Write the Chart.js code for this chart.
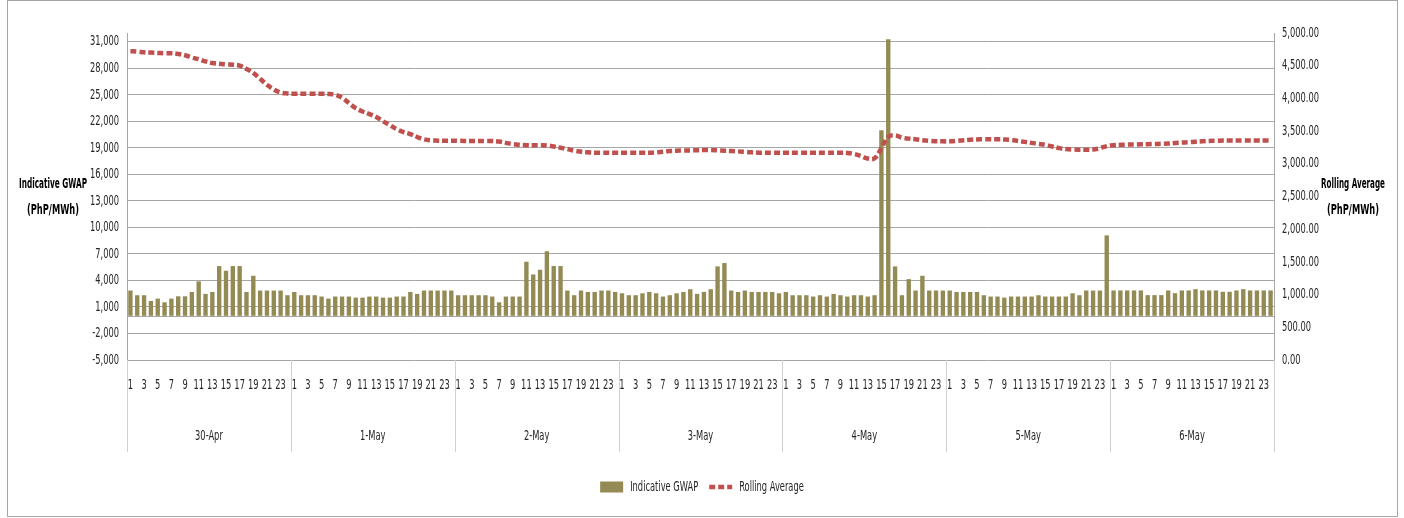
<!DOCTYPE html>
<html><head><meta charset="utf-8">
<script src="https://cdn.jsdelivr.net/npm/chart.js@4.4.0/dist/chart.umd.min.js"></script>
<style>html,body{margin:0;padding:0;background:#fff;}#wrap{width:1404px;height:518px;position:relative;}</style>
</head><body><div id="wrap"><canvas id="c" width="1404" height="518"></canvas></div>
<script>
const days = ['30-Apr','1-May','2-May','3-May','4-May','5-May','6-May'];
const hours = ['1','2','3','4','5','6','7','8','9','10','11','12','13','14','15','16','17','18','19','20','21','22','23','24'];
const gwap = [
  2860,2330,2330,1680,1950,1530,1950,2210,2210,2700,3900,2480,2700,5630,5100,5630,5630,2700,4530,2860,2860,2860,2860,2330,
  2700,2330,2330,2330,2180,1950,2180,2180,2180,2060,2060,2180,2180,2060,2060,2180,2180,2700,2480,2860,2860,2860,2860,2860,
  2330,2330,2330,2330,2330,2180,1530,2180,2180,2180,6120,4680,5210,7300,5630,5630,2860,2330,2860,2700,2700,2860,2860,2700,
  2550,2330,2330,2550,2700,2550,2180,2330,2550,2700,3010,2480,2700,3010,5590,5970,2860,2700,2860,2700,2700,2700,2700,2550,
  2700,2330,2330,2330,2180,2330,2180,2480,2330,2180,2330,2330,2180,2330,21000,31300,5590,2330,4150,2860,4530,2860,2860,2860,
  2860,2700,2700,2700,2700,2330,2180,2180,2060,2180,2180,2180,2180,2330,2180,2180,2180,2180,2550,2330,2860,2860,2860,9100,
  2870,2870,2870,2870,2870,2340,2340,2340,2870,2560,2870,2870,3020,2870,2870,2870,2720,2720,2870,3020,2870,2870,2870,2870
];
const rolling = [
  4721,4716,4705,4700,4695,4690,4690,4680,4660,4625,4600,4565,4540,4530,4520,4515,4500,4450,4390,4300,4210,4135,4090,4075,
  4070,4070,4070,4070,4070,4068,4055,4010,3930,3850,3800,3760,3715,3650,3590,3530,3485,3455,3410,3375,3358,3354,3354,3354,
  3352,3350,3350,3350,3350,3348,3340,3320,3300,3290,3285,3283,3283,3280,3265,3245,3225,3200,3185,3175,3170,3170,3170,3170,
  3168,3168,3168,3168,3168,3175,3185,3195,3200,3203,3205,3208,3210,3210,3205,3200,3195,3190,3182,3175,3170,3170,3170,3170,
  3170,3170,3170,3170,3170,3170,3170,3170,3170,3166,3150,3120,3080,3085,3240,3410,3435,3400,3385,3375,3360,3350,3345,3343,
  3343,3350,3360,3368,3372,3375,3375,3375,3372,3365,3350,3335,3320,3305,3290,3265,3240,3225,3218,3216,3216,3218,3240,3270,
  3285,3290,3293,3295,3298,3300,3303,3306,3310,3318,3325,3330,3338,3345,3350,3352,3355,3355,3355,3355,3355,3355,3355,3355
];
const leftTicks = [-5000,-2000,1000,4000,7000,10000,13000,16000,19000,22000,25000,28000,31000];
const rightTicks = [0,500,1000,1500,2000,2500,3000,3500,4000,4500,5000];
const leftTitle = ['Indicative GWAP','(PhP/MWh)'];
const rightTitle = ['Rolling Average','(PhP/MWh)'];
const seriesNames = ['Indicative GWAP','Rolling Average'];

// Emulate a condensed (Calibri-like) face: all canvas text is drawn horizontally narrowed.
(function () {
  const K = 0.66;
  const P = CanvasRenderingContext2D.prototype;
  const mt = P.measureText, ft = P.fillText;
  P.measureText = function (t) {
    const m = mt.call(this, t);
    return {
      width: m.width * K,
      actualBoundingBoxAscent: m.actualBoundingBoxAscent,
      actualBoundingBoxDescent: m.actualBoundingBoxDescent,
      actualBoundingBoxLeft: m.actualBoundingBoxLeft * K,
      actualBoundingBoxRight: m.actualBoundingBoxRight * K,
      fontBoundingBoxAscent: m.fontBoundingBoxAscent,
      fontBoundingBoxDescent: m.fontBoundingBoxDescent
    };
  };
  P.fillText = function (t, x, y, mw) {
    const w = mt.call(this, String(t)).width * K;
    return ft.call(this, t, x, y, mw === undefined ? w : Math.min(mw, w));
  };
})();

const labels = days.flatMap(() => hours);
const FAM = "'Liberation Sans Narrow','DejaVu Sans Condensed','DejaVu Sans',sans-serif";
const TXT = '#262626';
const GRID = '#A6A6A6';
const BAR = '#948A54';
const LINE = '#C0504D';
const FS = 14;

const decor = {
  id: 'decor',
  beforeDraw(chart) {
    const c = chart.ctx;
    c.save();
    c.fillStyle = '#fff';
    c.fillRect(0, 0, chart.width, chart.height);
    c.strokeStyle = '#A6A6A6';
    c.lineWidth = 1;
    c.strokeRect(7.5, 0.5, 1390, 516);
    c.restore();
  },
  beforeDatasetsDraw(chart) {
    const c = chart.ctx, y = chart.scales.y, a = chart.chartArea;
    const py = Math.round(y.getPixelForValue(0)) + 0.5;
    c.save();
    c.strokeStyle = GRID; c.lineWidth = 1;
    c.beginPath(); c.moveTo(a.left, py); c.lineTo(a.right, py); c.stroke();
    c.restore();
  },
  afterDraw(chart) {
    const c = chart.ctx, x = chart.scales.x, a = chart.chartArea;
    const step = x.getPixelForValue(1) - x.getPixelForValue(0);
    c.save();
    c.strokeStyle = '#D0D0D0'; c.lineWidth = 1;
    for (let k = 0; k <= days.length; k++) {
      const px = Math.round(x.getPixelForValue(k * hours.length) - step / 2) + 0.5;
      c.beginPath(); c.moveTo(px, a.bottom); c.lineTo(px, a.bottom + 92); c.stroke();
    }
    c.fillStyle = '#000';
    c.font = "bold 14px " + FAM;
    c.textAlign = 'center'; c.textBaseline = 'middle';
    c.fillText(leftTitle[0], 53, 184, 68);
    c.fillText(leftTitle[1], 53, 210, 52);
    c.fillText(rightTitle[0], 1353, 184, 64);
    c.fillText(rightTitle[1], 1353, 210, 52);
    c.restore();
  }
};

new Chart(document.getElementById('c'), {
  data: {
    labels: labels,
    datasets: [
      { type: 'bar', label: seriesNames[0], data: gwap, yAxisID: 'y', backgroundColor: BAR, borderWidth: 0,
        categoryPercentage: 1, barPercentage: 0.64, order: 2 },
      { type: 'line', label: seriesNames[1], data: rolling, yAxisID: 'y1', borderColor: LINE, backgroundColor: LINE,
        borderWidth: 4.5, borderDash: [6, 3], borderCapStyle: 'butt', pointRadius: 0, tension: 0.4, fill: false, order: 1 }
    ]
  },
  options: {
    responsive: false, animation: false, events: [],
    layout: { padding: { top: 33, left: 0, right: 0, bottom: 14 } },
    plugins: {
      tooltip: { enabled: false },
      legend: {
        position: 'bottom',
        labels: {
          usePointStyle: true, pointStyleWidth: 23, boxHeight: 11, padding: 11,
          color: TXT, font: { family: FAM, size: FS },
          sort: (a, b) => a.datasetIndex - b.datasetIndex,
          generateLabels: (chart) => chart.data.datasets.map((ds, i) => ({
            text: ds.label, datasetIndex: i, hidden: false, fontColor: TXT,
            fillStyle: ds.type === 'line' ? 'rgba(0,0,0,0)' : ds.backgroundColor,
            strokeStyle: ds.type === 'line' ? ds.borderColor : ds.backgroundColor,
            lineWidth: ds.type === 'line' ? 4.5 : 0,
            lineDash: ds.type === 'line' ? [6, 3] : [],
            lineCap: 'butt',
            pointStyle: ds.type === 'line' ? 'line' : 'rect'
          }))
        }
      }
    },
    scales: {
      x: {
        type: 'category', position: 'bottom', offset: true,
        grid: { display: false, drawTicks: false }, border: { display: false },
        ticks: { autoSkip: false, maxRotation: 0, minRotation: 0, padding: 17, color: TXT,
          font: { family: FAM, size: FS },
          callback: (v, i) => (i % 2 === 0 ? labels[i] : '') },
        afterFit: (s) => { s.height = 40; }
      },
      x2: {
        type: 'category', labels: days, position: 'bottom', offset: true,
        grid: { display: false, drawTicks: false }, border: { display: false },
        ticks: { autoSkip: false, maxRotation: 0, minRotation: 0, padding: 28, color: TXT,
          font: { family: FAM, size: FS } },
        afterFit: (s) => { s.height = 69; }
      },
      y: {
        position: 'left', min: -5000, max: 32000,
        afterBuildTicks: (s) => { s.ticks = leftTicks.map((v) => ({ value: v })); },
        ticks: { padding: 8, color: TXT, font: { family: FAM, size: FS },
          callback: (v) => Number(v).toLocaleString('en-US') },
        grid: { color: GRID, drawTicks: false, lineWidth: 1 },
        border: { color: GRID },
        afterFit: (s) => { s.width = 127; }
      },
      y1: {
        position: 'right', min: 0, max: 5000,
        afterBuildTicks: (s) => { s.ticks = rightTicks.map((v) => ({ value: v })); },
        ticks: { padding: 8, color: TXT, font: { family: FAM, size: FS },
          callback: (v) => Number(v).toLocaleString('en-US', { minimumFractionDigits: 2, maximumFractionDigits: 2 }) },
        grid: { drawOnChartArea: false, drawTicks: false },
        border: { color: GRID },
        afterFit: (s) => { s.width = 130; }
      }
    }
  },
  plugins: [decor]
});
</script></body></html>
